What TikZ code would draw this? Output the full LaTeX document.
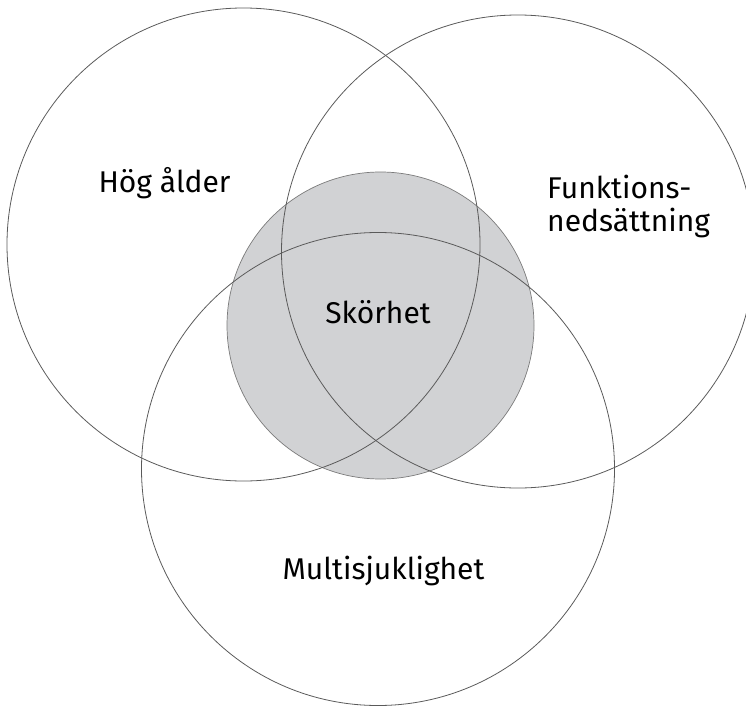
\documentclass[tikz,border=0pt]{standalone}
\usepackage{fontspec}
\setmainfont{Fira Sans}
\definecolor{skorgrey}{HTML}{D1D2D4}
\definecolor{ringline}{HTML}{5A5A5A}
\begin{document}
\begin{tikzpicture}[x=1pt,y=-1pt,
    ring/.style = {draw=ringline, line width=0.8pt},
    label/.style = {font=\fontsize{30}{33}\selectfont, align=left, inner sep=0pt}]
    % Fix the frame
    \useasboundingbox (0,0) rectangle (746,706);
    \clip (0,0) rectangle (746,706);
    % Draw the shaded circle
    \fill [skorgrey] (380.5,325.5) circle [radius=153.5pt];
    \draw [draw=ringline!80, line width=0.7pt] (380.5,325.5) circle [radius=153.5pt];
    % Draw three overlapping circles
    \draw [ring] (243.5,244.5) circle [radius=236.5pt];
    \draw [ring] (518,251.5) circle [radius=236.5pt];
    \draw [ring] (378,469) circle [radius=236.5pt];
    % Labels
    \node [label] (hog) at (164.5,183) {Hög ålder};
    \node [label, anchor=west] (funk) at (547,206) {Funktions-\\nedsättning};
    \node [label] (skor) at (378,312) {Skörhet};
    \node [label] (multi) at (383.5,571) {Multisjuklighet};
\end{tikzpicture}
\end{document}
